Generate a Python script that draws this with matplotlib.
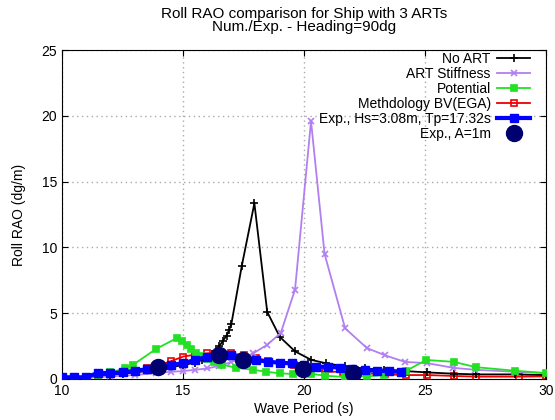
import matplotlib
matplotlib.use("Agg")
import matplotlib.pyplot as plt

plt.rcParams['font.family'] = ['Liberation Sans', 'DejaVu Sans']

# ---- data ----
noart_x = [10.0, 10.5, 11.0, 11.5, 12.0, 12.5, 13.0, 13.5, 14.0, 14.5, 15.0, 15.5, 15.8, 16.0,
           16.2, 16.35, 16.5, 16.65, 16.8, 16.9, 17.0, 17.43, 17.95, 18.48, 19.0, 19.63, 20.3,
           20.9, 21.7, 22.5, 23.3, 24.2, 25.1, 26.2, 27.1, 28.7, 30.0]
noart_y = [0.05, 0.1, 0.15, 0.2, 0.3, 0.4, 0.5, 0.6, 0.75, 0.9, 1.05, 1.25, 1.45, 1.65,
           1.9, 2.15, 2.5, 2.9, 3.3, 3.7, 4.2, 8.6, 13.35, 5.1, 3.2, 2.1, 1.45,
           1.2, 0.95, 0.8, 0.7, 0.6, 0.5, 0.4, 0.35, 0.35, 0.3]

stiff_x = [10.0, 11.0, 12.0, 13.0, 13.9, 14.5, 15.0, 15.5, 16.0, 16.5, 17.0, 17.45, 17.9,
           18.48, 19.04, 19.63, 20.29, 20.85, 21.7, 22.6, 23.35, 24.17, 25.1, 26.17, 27.07,
           28.7, 30.0]
stiff_y = [0.05, 0.1, 0.2, 0.3, 0.45, 0.55, 0.6, 0.7, 0.8, 1.0, 1.3, 1.6, 1.95,
           2.6, 3.5, 6.8, 19.6, 9.5, 3.85, 2.35, 1.8, 1.3, 1.2, 0.85, 0.7,
           0.55, 0.45]

pot_x = [10.0, 10.5, 11.0, 11.5, 12.0, 12.6, 12.95, 13.9, 14.74, 14.95, 15.15, 15.35, 15.55,
         15.75, 16.0, 16.3, 16.6, 17.2, 17.9, 18.45, 19.0, 19.55, 20.3, 20.85, 21.7, 22.6,
         23.3, 24.2, 25.05, 26.2, 27.1, 28.7, 30.0]
pot_y = [0.1, 0.1, 0.15, 0.3, 0.5, 0.8, 1.1, 2.3, 3.1, 2.85, 2.55, 2.25, 2.0,
         1.75, 1.5, 1.3, 1.1, 0.85, 0.7, 0.55, 0.43, 0.38, 0.4, 0.25, 0.15, 0.2,
         0.3, 0.6, 1.45, 1.3, 0.9, 0.63, 0.45]

bv_x = [10.0, 10.5, 11.0, 11.5, 12.0, 12.5, 13.0, 13.5, 14.0, 14.5, 15.0, 15.5, 16.0, 16.5,
        17.0, 17.5, 18.0, 18.5, 19.0, 19.6, 20.0, 20.85, 21.6, 22.6, 23.35, 24.2, 25.1, 26.2,
        27.1, 28.9, 30.0]
bv_y = [0.05, 0.05, 0.1, 0.25, 0.35, 0.45, 0.6, 0.8, 1.0, 1.35, 1.7, 1.85, 1.95, 2.0,
        1.95, 1.8, 1.6, 1.4, 1.2, 1.1, 1.05, 0.55, 0.55, 0.43, 0.35, 0.3, 0.3, 0.23,
        0.18, 0.18, 0.2]

exp_x = [10.0, 10.5, 11.0, 11.5, 12.0, 12.5, 13.0, 13.5, 14.0, 14.5, 15.0, 15.5, 16.0, 16.5,
         17.0, 17.5, 18.0, 18.5, 19.0, 19.5, 20.0, 20.5, 21.0, 21.5, 22.0, 22.5, 23.0, 23.5,
         24.0]
exp_y = [0.13, 0.13, 0.13, 0.48, 0.43, 0.5, 0.63, 0.73, 0.9, 1.06, 1.2, 1.44, 1.69, 1.78,
         1.82, 1.6, 1.45, 1.31, 1.24, 1.18, 1.05, 0.93, 0.93, 0.86, 0.75, 0.68, 0.63, 0.6,
         0.55]

expA_x = [13.98, 16.5, 17.49, 19.97, 22.04]
expA_y = [0.93, 1.82, 1.44, 0.75, 0.43]

labels = ["No ART", "ART Stiffness", "Potential", "Methdology BV(EGA)",
          "Exp., Hs=3.08m, Tp=17.32s", "Exp., A=1m"]

# ---- figure ----
fig = plt.figure(figsize=(5.55, 4.2), dpi=100)
ax = fig.add_axes([62/555, 1-379/420, (546-62)/555, (379-50)/420])

ax.plot(noart_x, noart_y, color='black', lw=1.3, marker='+', ms=6, mew=1.2, label=labels[0], zorder=3)
ax.plot(stiff_x, stiff_y, color='#b27ff0', lw=1.3, marker='x', ms=5, mew=1.2, label=labels[1], zorder=3)
ax.plot(pot_x, pot_y, color='#22e022', lw=1.3, marker='s', ms=4, mew=1.2, label=labels[2], zorder=3)
ax.plot(bv_x, bv_y, color='#ee0000', lw=1.3, marker='s', ms=4.5, mfc='none', mew=1.2, label=labels[3], zorder=2)
ax.plot(exp_x, exp_y, color='#0000ff', lw=3, marker='s', ms=6, label=labels[4], zorder=4)
ax.plot(expA_x, expA_y, color='#00006e', lw=0, marker='o', ms=11.5, label=labels[5], zorder=5)

ax.set_xlim(10, 30)
ax.set_ylim(0, 25)
ax.set_xticks([10, 15, 20, 25, 30])
ax.set_yticks([0, 5, 10, 15, 20, 25])
ax.tick_params(direction='in', top=True, right=True, labelsize=10, length=4)
ax.grid(True, color='#aaaaaa', linestyle=(0, (1, 2.5)), lw=1)
for s in ax.spines.values():
    s.set_linewidth(0.8)

ax.set_xlabel("Wave Period (s)", fontsize=10, labelpad=3)
ax.set_ylabel("Roll RAO (dg/m)", fontsize=10, labelpad=11)
fig.text(304/555, 1-7/420, "Roll RAO comparison for Ship with 3 ARTs\nNum./Exp. - Heading=90dg",
         ha='center', va='top', fontsize=11, linespacing=0.9)

leg = ax.legend(loc='upper right', bbox_to_anchor=(536/555, 1-46/420), bbox_transform=fig.transFigure,
                frameon=False, markerfirst=False, fontsize=10, handlelength=2.4,
                labelspacing=0.08, handletextpad=0.45, borderaxespad=0)
for t in leg.get_texts():
    t.set_ha('right')

fig.savefig("out.png", dpi=100)
